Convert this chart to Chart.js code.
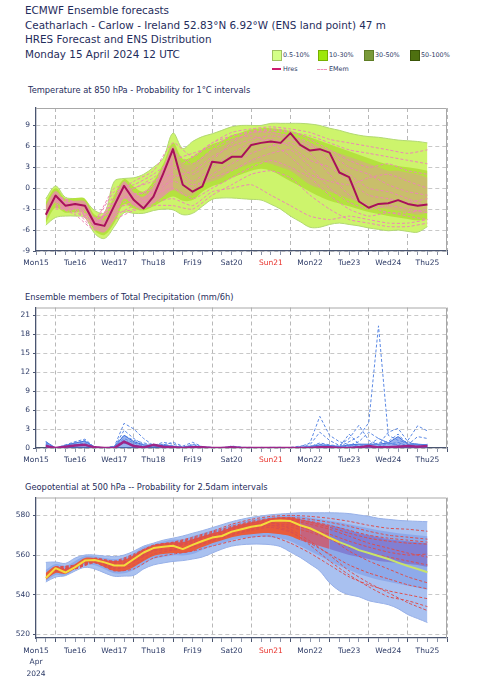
<!DOCTYPE html>
<html>
<head>
<meta charset="utf-8">
<script src="https://cdn.jsdelivr.net/npm/chart.js@4.4.1/dist/chart.umd.min.js"></script>
<style>
  body { margin: 0; background: #fff; font-family: "DejaVu Sans", sans-serif; color: #1f2d5c; }
  #page { position: relative; width: 483px; height: 680px; overflow: hidden; }
  .hdr { position: absolute; left: 25px; font-size: 10.4px; line-height: 14.5px; white-space: nowrap; }
  .ptitle { position: absolute; left: 25px; font-size: 8.3px; white-space: nowrap; }
  .lg { position: absolute; font-size: 6.4px; line-height: 10px; white-space: nowrap; color: #2c3a66; }
  .box { position: absolute; width: 8px; height: 9px; border: 1px solid; }
  canvas { position: absolute; left: 0; }
</style>
</head>
<body>
<div id="page">
  <div class="hdr" style="top:3px">ECMWF Ensemble forecasts</div>
  <div class="hdr" style="top:17.5px">Ceatharlach - Carlow - Ireland 52.83°N 6.92°W (ENS land point) 47 m</div>
  <div class="hdr" style="top:32px">HRES Forecast and ENS Distribution</div>
  <div class="hdr" style="top:46.5px">Monday 15 April 2024 12 UTC</div>

  <div class="box" style="left:272px;top:50px;background:#d4ff88;border-color:#9fc060"></div>
  <div class="lg" style="left:283px;top:50px">0.5-10%</div>
  <div class="box" style="left:318px;top:50px;background:#9de80a;border-color:#78b000"></div>
  <div class="lg" style="left:329px;top:50px">10-30%</div>
  <div class="box" style="left:364px;top:50px;background:#7a9a3a;border-color:#5f7d25"></div>
  <div class="lg" style="left:375px;top:50px">30-50%</div>
  <div class="box" style="left:410px;top:50px;background:#4e7010;border-color:#3a5508"></div>
  <div class="lg" style="left:421px;top:50px">50-100%</div>
  <div style="position:absolute;left:272px;top:68px;width:9px;height:2px;background:#cc1a6e"></div>
  <div class="lg" style="left:283px;top:64px">Hres</div>
  <div style="position:absolute;left:317px;top:68.5px;width:10px;border-top:1px dashed #f08cb8"></div>
  <div class="lg" style="left:329px;top:64px">EMem</div>

  <div class="ptitle" style="top:85px;left:28px">Temperature at 850 hPa - Probability for 1°C intervals</div>
  <canvas id="tempChart" width="483" height="170" style="top:100px"></canvas>

  <div class="ptitle" style="top:292px">Ensemble members of Total Precipitation (mm/6h)</div>
  <canvas id="precipChart" width="483" height="166" style="top:300px"></canvas>

  <div class="ptitle" style="top:482px">Geopotential at 500 hPa -- Probability for 2.5dam intervals</div>
  <canvas id="geoChart" width="483" height="190" style="top:490px"></canvas>
</div>

<script>
// hours after Mon 15 Apr 12 UTC
const tickHours = [0,6,12,18,24,30,36,42,48,54,60,66,72,78,84,90,96,102,108,114,120,126,132,138,144,150,156,162,168,174,180,186,192,198,204,210,216,222,228,234,240,246,252];
const dayLabels = ['Mon15','Tue16','Wed17','Thu18','Fri19','Sat20','Sun21','Mon22','Tue23','Wed24','Thu25'];
const stepHours = [6,12,18,24,30,36,42,48,54,60,66,72,78,84,90,96,102,108,114,120,126,132,138,144,150,156,162,168,174,180,186,192,198,204,210,216,222,228,234,240];
const memberHours = [12,24,36,48,60,72,84,96,108,120,132,144,156,168,180,192,204,216,228,240];

// Temperature 850 hPa
const tempTicks = [-9,-6,-3,0,3,6,9];
const tempHres = [-3.8,-1.05,-2.5,-2.25,-2.5,-5.1,-5.4,-2.5,0.35,-1.7,-2.9,-1.2,2.1,5.6,0.5,-0.5,0.25,3.8,3.6,4.5,4.5,6.2,6.5,6.7,6.5,7.9,6.2,5.4,5.6,5.1,2.25,1.6,-1.9,-2.8,-2.25,-2.15,-1.7,-2.25,-2.5,-2.35];
const tempEnvHi = [-1.5,0.3,-1.3,-1.5,-1.8,-3.2,-3.5,1.0,1.4,1.5,2.0,3.0,4.3,7.9,5.7,6.7,7.4,7.8,8.3,8.8,9.0,9.0,9.0,9.3,9.3,9.3,9.3,9.2,9.0,8.6,8.3,7.9,7.6,7.4,7.3,7.1,6.9,6.8,6.7,6.5];
const tempEnvLo = [-5.3,-4.2,-4.0,-4.0,-4.2,-6.5,-7.2,-5.5,-3.5,-3.6,-3.6,-3.2,-3.0,-3.1,-3.8,-3.6,-2.6,-1.6,-1.4,-1.4,-1.5,-1.6,-1.7,-2.3,-3.0,-4.0,-4.8,-5.6,-5.6,-5.2,-5.0,-5.2,-5.4,-5.7,-5.9,-6.1,-6.0,-6.2,-6.3,-5.5];
const tempMidHi = [-2.0,0.0,-1.5,-1.4,-1.5,-3.8,-3.9,-1.0,1.3,0.2,-0.5,1.0,3.5,6.5,4.2,4.5,5.5,6.3,6.8,7.6,8.0,8.4,8.6,8.6,8.4,8.2,7.8,7.3,6.8,6.3,5.8,5.3,4.8,4.3,3.8,3.4,3.2,3.0,2.8,2.5];
const tempMidLo = [-5.0,-2.8,-3.5,-3.4,-3.6,-6.1,-6.7,-5.0,-2.3,-2.9,-3.2,-2.6,-1.8,-1.2,-1.8,-1.7,-0.5,0.3,0.7,1.5,2.0,2.5,2.8,2.5,1.8,1.0,0.3,-0.5,-1.2,-1.8,-2.2,-2.6,-3.0,-3.4,-3.7,-4.0,-4.2,-4.4,-4.6,-4.4];
const tempCoreHi = [-2.5,-0.4,-1.9,-1.8,-1.9,-4.2,-4.5,-1.8,1.0,-0.6,-1.2,0.3,3.0,6.0,3.5,3.5,4.5,5.5,6.0,7.0,7.5,8.0,8.2,8.2,7.8,7.5,7.0,6.5,6.0,5.5,5.0,4.5,4.0,3.5,3.0,2.5,2.5,2.2,2.0,1.5];
const tempCoreLo = [-4.5,-2.0,-3.2,-3.0,-3.2,-5.8,-6.3,-4.5,-1.5,-2.5,-3.0,-2.2,-1.2,-0.3,-1.0,-1.0,0.5,1.0,1.5,2.5,3.0,3.5,3.8,3.5,3.0,2.5,1.5,0.5,0.0,-0.5,-1.0,-1.5,-2.0,-2.5,-2.8,-3.0,-3.2,-3.5,-3.8,-3.5];
const tempMembers = [
  [-1.5,-2.5,-4.5,0,0.5,2,4,5,6,7.5,8,8.3,8,7.5,6.5,5.5,5,4.5,4,3.5],
  [-3,-3,-5.5,-4,-2.5,-2,-1.5,-2.5,-0.5,0,0.5,-1,-2.5,-4,-4.5,-4,-4.5,-5,-5,-4.5],
  [-2,-2.8,-5,-2,-1,0,3,1,3,5,6.5,7,6,4,3,1,-1,-1.5,-2,-1.5],
  [-1.5,-2,-4.8,-3,-2,-1.5,1.5,2.5,4.5,6,7,7.5,7,6,5,3,2,0.5,-0.5,-1],
  [-2.5,-3.2,-5.8,-1.5,0,1,2,0.5,1.5,2.5,4,5,5.5,3,0,-2,-3,-2.5,-3,-3.5],
  [-1,-2.2,-5,-2.5,-1.5,0.5,5,3.5,5.5,7,7.5,6.5,4.5,2,1,0.5,1.5,2,1,0],
  [-2.2,-3.5,-4.2,-3.5,-3,-1,0,-1.5,0,1.5,3,4,3,1.5,-1,-3,-4,-3.5,-4,-4.5],
  [-1.8,-2.4,-5.5,-1,1,2.5,6.5,4.5,6.5,8,8.5,8.8,8.5,8,7,6.5,6,5.5,5,5.5],
  [-2.8,-2.6,-5.2,-2.8,-2.2,-0.5,1,0,2,3.5,5,6,6.5,5,2,-1,-2.5,-3.5,-3.5,-3],
  [-1.2,-2.1,-4.6,-0.5,0,1.5,3.5,2,4,6.5,8,8,7.5,6.5,4,2,0,-0.5,-1.5,-2.5],
  [-2.6,-3.8,-6,-4.5,-3.2,-2.5,-2.5,-3,-1,0.5,2,2.5,1.5,-1,-3,-4.5,-5,-5.5,-5.5,-5],
  [-1.6,-2.3,-5.2,-2,-0.8,-0.5,2.5,4.5,6.5,7.5,8.2,8.5,8.2,7,5.5,4,3,3.5,2.5,2]
];

// Precipitation mm/6h
const precipTicks = [0,3,6,9,12,15,18,21];
const precipHres = [0.3,0,0.2,0.4,0.5,0.1,0,0,1.0,0.3,0.1,0.5,0.2,0.1,0,0.1,0.1,0,0,0.1,0,0,0,0,0,0,0,0,0.1,0.1,0,0,0.1,0.3,0.1,0.1,0.2,0.3,0.2,0.3];
const precipBulk = [1.0,0,0.4,0.8,1.1,0.1,0,0.2,2.0,1.0,0.5,0.4,0.4,0.3,0.1,0.3,0.1,0,0,0.1,0,0,0,0,0,0,0.1,0.2,0.5,0.4,0.2,0.5,0.6,0.6,0.6,0.8,1.8,0.6,0.6,0.5];
const precipMembers = [
  [1.0,0,0.2,0.6,1.2,0.1,0,0.1,2.8,1.5,0.5,0.3,0.6,0.3,0.1,0.5,0.1,0,0,0.2,0.1,0,0,0.1,0,0,0.1,0.3,0.6,0.4,0.2,1.0,1.8,4.0,19.3,2.0,1.2,0.8,0.6,0.4],
  [0.6,0,0.4,0.9,1.0,0.2,0,0.2,3.9,3.0,1.5,0.4,0.9,0.6,0.2,0.3,0.1,0.1,0,0.3,0.1,0.1,0,0,0.1,0,0.2,0.8,5.0,2.0,1.0,0.5,0.3,0.5,1.5,0.8,0.4,0.2,0.5,0.3],
  [0.8,0,0.5,1.0,1.4,0.1,0,0.3,2.0,1.2,0.8,0.5,0.5,0.9,0.3,0.9,0.2,0,0.1,0.1,0,0,0.1,0,0,0.1,0.3,0.5,2.5,1.2,0.4,1.5,3.6,1.2,0.5,2.5,3.1,1.0,0.5,0.3],
  [0.5,0,0.3,0.5,0.8,0,0,0.1,1.5,0.8,0.3,0.2,0.3,0.2,0.1,0.6,0.2,0.1,0,0.3,0.1,0,0,0.1,0.1,0,0.1,0.2,0.8,0.5,0.3,0.4,1.0,2.5,1.5,0.8,0.5,1.2,3.5,2.7],
  [0.3,0,0.2,0.4,0.6,0.1,0,0,1.2,0.5,0.2,0.6,0.2,0.1,0.1,0.2,0,0,0,0.1,0,0,0,0,0,0,0,0.1,0.3,0.2,0.2,2.2,0.6,0.4,0.8,1.0,2.2,0.5,1.8,1.5],
  [0.4,0,0.1,0.3,0.4,0,0,0.1,0.8,0.3,0.2,0.3,0.1,0.2,0,0.1,0,0,0,0,0,0,0,0,0,0,0,0,0.2,0.3,0.1,0.3,0.2,0.1,0.3,0.6,0.9,0.3,0.4,0.6]
];

// Geopotential 500 hPa (dam)
const geoTicks = [520,540,560,580];
const geoHres = [548.4,553.4,551.2,553.9,557.2,557.5,556.3,554.7,554.7,558,561.3,563.5,564.2,564.7,563,565.1,567.1,568.8,569.6,571.8,573,574.3,575,577.1,577.4,577.1,575,573.5,571.2,568.7,566.5,564.6,562.5,561,559.5,558,556.2,554.5,553,551.3];
const geoEnvHi = [556.3,556.5,555.8,558.5,560,560,559.5,559.2,560,562,564.5,566,567.5,568.5,569.6,571,572.3,573.8,575.3,576.8,578,579,579.7,580.3,580.7,581,581.3,581.3,581.3,581.3,581.2,580.9,580.2,579.5,578.5,578,577.5,577.2,577,576.8];
const geoEnvLo = [546.4,548.9,549.6,552,553.8,553,551,549.3,549.4,549.8,553,555,556,556.8,557.2,558,559,561,563,564.5,565.2,565.5,565.5,565.2,564.2,561.5,558.8,555.5,552,546,542,540,539,537,536,535,533,530,528,526];
const geoMidHi = [552.5,555.5,554.5,557,559.5,559.3,558.5,558,558.8,561,564,565.5,566.8,567.8,568,569.5,571,572.5,573.5,575.3,576.8,577.8,578.6,579.3,579.8,580,579.5,578.8,578,577.3,576.5,575.5,574.5,573.5,572.5,571.8,571,570.5,570,569.5];
const geoMidLo = [546.8,550,549.8,552.8,555,554.8,552.8,550.8,550.8,552.5,555.5,558,559,559.8,559.8,560.5,562.5,564.5,566,567.5,568.5,569,569.3,569,568.3,567,564.5,562,559.5,557,554.5,552.5,550.5,549,547.5,546.5,545.5,544.5,543.5,542.5];
const geoCoreHi = [551,554.5,553,555.5,558.5,558.5,557.5,557,557.5,560,563,565,566,566.5,566.5,568,569.5,571,572,574,575.5,576.5,577.5,578.5,579,579,578,577,576,575,574,572.5,571,570,569,568,567.5,567,566.5,566];
const geoCoreLo = [547.5,551,550.5,553.2,556,556,554,552,552,554,557,559.5,560.5,561,561,562,564,566,567.5,569,570,570.5,571,571,570.5,569.5,567.5,566,564.5,563,561.5,560,559,558,557,556.5,556,555.5,555,554];
const geoMembers = [
  [554,555,558.5,557,560.5,565,566.5,569,572,575.5,578,579.5,580,579.5,578.5,577,575,573.5,573,572],
  [553,553.5,557,555,558.5,564,565,567,570,573,576,578,578,576.5,574,571,568.5,567,566,565.5],
  [552.5,554,557,553.5,556.5,562,563,564.5,567.5,570.5,573,575,574,571.5,568,564,561,559,557,555],
  [551.5,553,556,552,553,558.5,560.5,562,564.5,567,569,569.5,566,561,555,549,545,542,540,538],
  [553.5,554.5,558,556,559.5,564.5,566,568,571,574,576.5,577.5,576,572.5,568.5,562,557,553,549,546],
  [552,553,556.5,554,557.5,563,564,566,569,572,574.5,576,575,573,570.5,567,564,561.5,560,560.5],
  [553,554,557.5,555.5,557,562.5,564.5,566.5,569.5,572.5,575,576.5,573,567,560,552,546,541,536,532],
  [552.8,553.8,557.2,554.2,558,563.5,565,567.5,570.5,573.5,575.5,577,577.5,575.5,573,569.5,566,563.5,561,559],
  [552.2,553.2,556.8,553,555,560.5,562.5,564,567,570,572.5,574,571.5,566,560.5,555,551,548,545,543],
  [553.2,554.2,557.8,556.5,559,564,565.5,567.5,570.5,573.5,576,578,578.5,577,575,572.5,570,568.5,567.5,566.5],
  [552.5,553.5,557,554.5,558,563,564.5,566.5,569,572,574,575,572,565,557,550,544,539,537,534],
  [553.8,554.8,558.2,556.5,560,564.8,566.2,568.5,571.5,574.5,577,578.5,579,578,576.5,574.5,572,570,569,568]
];

const FONT = 'DejaVu Sans';
const NAVY = '#2c3a66';
const AXIS = '#4a5570';

let tempChart;
let precipChart;
let geoChart;

function pts(xs, ys) {
    return xs.map((x, i) => ({ x: x, y: ys[i] }));
}

// light grey line along top and right of the plot area
const framePlugin = {
    id: 'frame',
    afterDraw(chart) {
        const { ctx, chartArea: a } = chart;
        ctx.save();
        ctx.strokeStyle = '#a8a8a8';
        ctx.lineWidth = 1;
        ctx.beginPath();
        ctx.moveTo(a.left, a.top + 0.5);
        ctx.lineTo(a.right - 0.5, a.top + 0.5);
        ctx.lineTo(a.right - 0.5, a.bottom);
        ctx.stroke();
        ctx.restore();
    }
};

function xAxis(height, padding, lineHeight, withDate) {
    return {
        type: 'linear',
        min: 0,
        max: 252,
        afterBuildTicks: s => { s.ticks = tickHours.map(v => ({ value: v })); },
        afterFit: s => { s.height = height; },
        ticks: {
            autoSkip: false,
            maxRotation: 0,
            padding: padding,
            font: { family: FONT, size: 7.5, lineHeight: lineHeight },
            color: ctx => (ctx.tick && ctx.tick.value === 144) ? '#e8302a' : NAVY,
            callback: v => {
                if (v % 24 !== 0) return '';
                if (withDate && v === 0) return ['Mon15', 'Apr', '2024'];
                return dayLabels[v / 24];
            }
        },
        grid: {
            color: ctx => (ctx.tick && ctx.tick.value % 24 === 12) ? '#b8b8b8' : 'rgba(0,0,0,0)',
            tickColor: ctx => (ctx.tick && ctx.tick.value % 24 === 12) ? AXIS : '#8a93a8',
            tickLength: 4,
            lineWidth: 1
        },
        border: { color: AXIS, width: 1.3, dash: [4, 3] }
    };
}

function yAxis(min, max, ticksArr) {
    return {
        min: min,
        max: max,
        afterBuildTicks: s => { s.ticks = ticksArr.map(v => ({ value: v })); },
        afterFit: s => { s.width = 36; },
        ticks: { padding: 3, font: { family: FONT, size: 7.5 }, color: NAVY },
        grid: { color: '#c8c8c8', tickColor: AXIS, tickLength: 3 },
        border: { color: AXIS, width: 1.3, dash: [4, 3] }
    };
}

function baseOptions(x, y, top) {
    return {
        responsive: false,
        animation: false,
        devicePixelRatio: 1,
        layout: { padding: { left: 0, right: 36, top: top, bottom: 0 } },
        elements: { point: { radius: 0 }, line: { borderJoinStyle: 'round' } },
        plugins: { legend: { display: false }, tooltip: { enabled: false } },
        scales: { x: x, y: y }
    };
}

function band(hi, lo, color, edge, order, tension) {
    return [
        { data: pts(stepHours, hi), fill: '+1', backgroundColor: color, borderColor: edge || 'rgba(0,0,0,0)',
          borderWidth: edge ? 1 : 0, tension: tension, order: order },
        { data: pts(stepHours, lo), fill: false, borderColor: edge || 'rgba(0,0,0,0)',
          borderWidth: edge ? 1 : 0, tension: tension, order: order - 1 }
    ];
}

function drawTemperatureChart() {
    const core = band(tempCoreHi, tempCoreLo, 'rgba(238,132,184,0.7)', null, 20, 0.3);
    // members are tightly packed early on, looser after Thu18
    core[0].segment = { backgroundColor: ctx => ctx.p0.parsed.x >= 84 ? 'rgba(232,140,170,0.42)' : undefined };
    const datasets = [
        ...band(tempEnvHi, tempEnvLo, '#cdf46c', '#b2d872', 40, 0.35),
        ...band(tempMidHi, tempMidLo, '#b4e23e', null, 30, 0.35),
        ...core
    ];
    tempMembers.forEach(m => datasets.push({
        data: pts(memberHours, m), borderColor: '#ee86b6', borderWidth: 1, borderDash: [3, 2],
        fill: false, tension: 0.2, order: 10
    }));
    datasets.push({ data: pts(stepHours, tempHres), borderColor: '#a8105a', borderWidth: 2, fill: false, order: 1 });

    if (tempChart) tempChart.destroy();
    tempChart = new Chart(document.getElementById('tempChart'), {
        type: 'line',
        data: { datasets: datasets },
        options: baseOptions(xAxis(19, 4, 1.2, false), yAxis(-9, 11.5, tempTicks), 8),
        plugins: [framePlugin]
    });
}

function drawPrecipChart() {
    const datasets = [{
        data: pts(stepHours, precipBulk), fill: 'origin', backgroundColor: 'rgba(70,115,225,0.55)',
        borderColor: '#3f6fd8', borderWidth: 1, order: 30
    }];
    precipMembers.forEach(m => datasets.push({
        data: pts(stepHours, m), borderColor: '#5a88e4', borderWidth: 1, borderDash: [3, 2],
        fill: false, order: 10
    }));
    datasets.push({ data: pts(stepHours, precipHres), borderColor: '#9e2588', borderWidth: 2.5, fill: false, order: 1 });

    if (precipChart) precipChart.destroy();
    precipChart = new Chart(document.getElementById('precipChart'), {
        type: 'line',
        data: { datasets: datasets },
        options: baseOptions(xAxis(18, 4, 1.2, false), yAxis(0, 22.2, precipTicks), 6),
        plugins: [framePlugin]
    });
}

function drawGeoChart() {
    const core = band(geoCoreHi, geoCoreLo, '#e85c3c', null, 20, 0.3);
    // after Mon22 the dense cluster is blue with red member lines
    core[0].segment = { backgroundColor: ctx => {
        const h = ctx.p0.parsed.x;
        if (h >= 180) return 'rgba(128,124,208,0.92)';
        if (h >= 162) return 'rgba(200,96,120,0.95)';
        return undefined;
    } };
    const mid = band(geoMidHi, geoMidLo, '#8eaaea', null, 30, 0.35);
    const datasets = [
        ...band(geoEnvHi, geoEnvLo, '#a9c1f0', '#97b0e8', 40, 0.35),
        ...mid,
        ...core
    ];
    geoMembers.forEach(m => datasets.push({
        data: pts(memberHours, m), borderColor: '#dc4f4f', borderWidth: 1, borderDash: [3, 2],
        fill: false, tension: 0.2, order: 10
    }));
    datasets.push({
        data: pts(stepHours, geoHres), borderColor: '#f3dc3c', borderWidth: 2, fill: false, order: 1,
        segment: { borderColor: ctx => ctx.p0.parsed.x >= 186 ? '#c8e46a' : undefined }
    });

    if (geoChart) geoChart.destroy();
    geoChart = new Chart(document.getElementById('geoChart'), {
        type: 'line',
        data: { datasets: datasets },
        options: baseOptions(xAxis(42, 3, 1.55, true), yAxis(518.2, 589, geoTicks), 6),
        plugins: [framePlugin]
    });
}

drawTemperatureChart();
drawPrecipChart();
drawGeoChart();
</script>
</body>
</html>
